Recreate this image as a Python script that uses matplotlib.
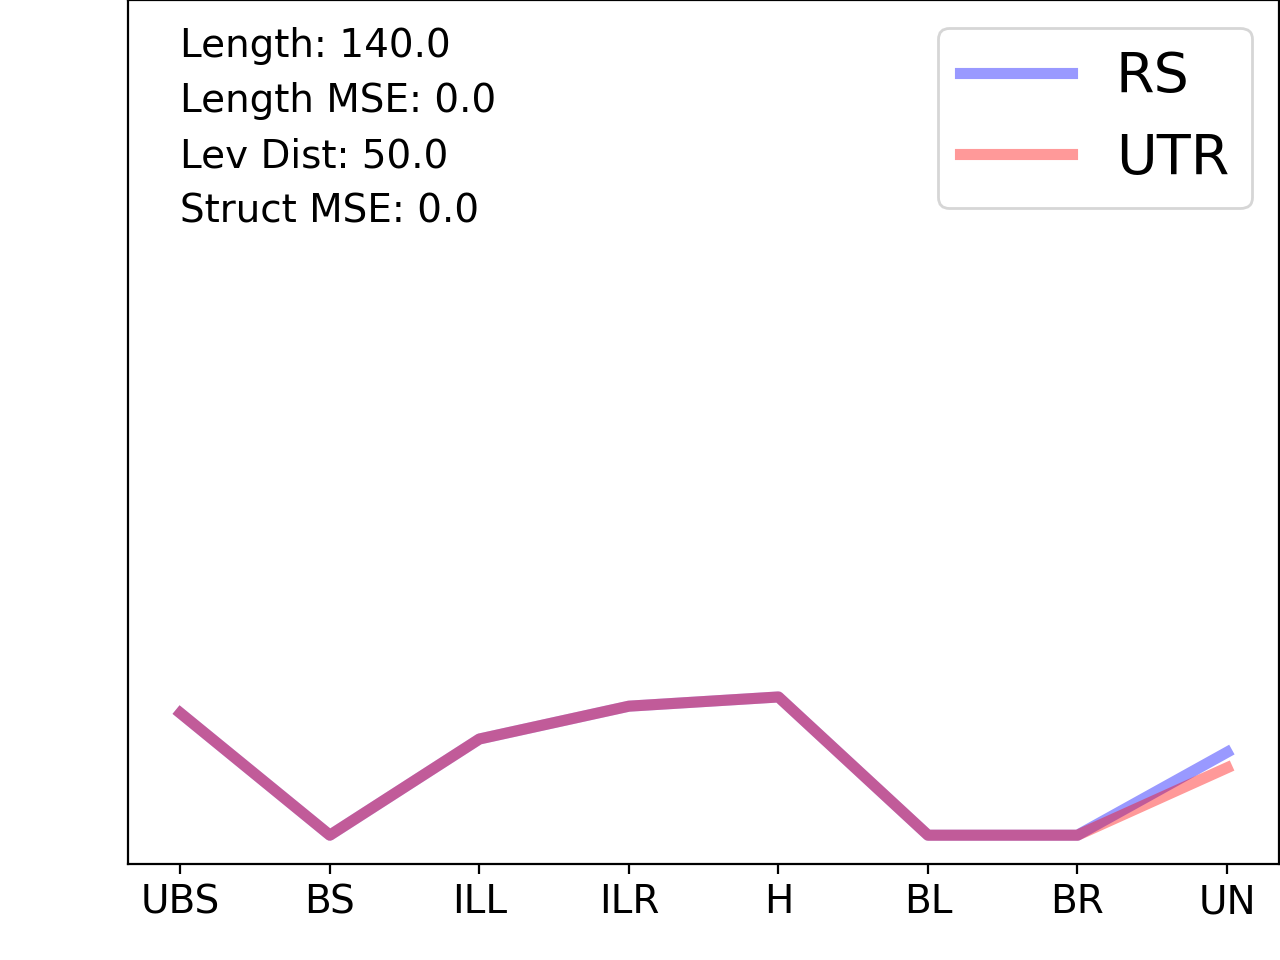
import matplotlib
matplotlib.use("Agg")
import matplotlib.pyplot as plt
import matplotlib.transforms as mtransforms

categories = ["UBS", "BS", "ILL", "ILR", "H", "BL", "BR", "UN"]
rs_values = [0.212, 0.0, 0.167, 0.224, 0.240, 0.0, 0.0, 0.144]
utr_values = [0.212, 0.0, 0.167, 0.224, 0.240, 0.0, 0.0, 0.117]
stats_lines = ["Length: 140.0", "Length MSE: 0.0", "Lev Dist: 50.0", "Struct MSE: 0.0"]

fig = plt.figure(figsize=(6.4, 4.8), dpi=200)
ax = fig.add_axes([0.1, 0.1, 0.8995, 0.9])

x = list(range(len(categories)))
ax.plot(x, rs_values, color="blue", alpha=0.4, linewidth=4, label="RS")
ax.plot(x, utr_values, color="red", alpha=0.4, linewidth=4, label="UTR")

ax.set_xticks(x)
ax.set_xticklabels(categories, fontsize=14)
ax.set_yticks([])
ax.set_ylim(-0.05, 1.45)

trans = mtransforms.blended_transform_factory(ax.transData, ax.transAxes)
ys = [0.934, 0.870, 0.806, 0.743]
for t, yy in zip(stats_lines, ys):
    ax.text(0, yy, t, transform=trans, fontsize=14, ha="left", va="baseline")

ax.legend(loc="upper right", fontsize=20)

fig.savefig("out.png", dpi=200)
